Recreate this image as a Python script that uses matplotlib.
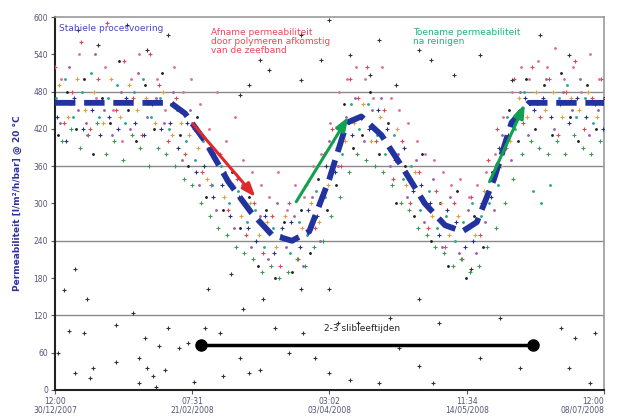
import matplotlib
matplotlib.use("Agg")
import matplotlib.pyplot as plt

# time axis in days after 30/12/2007 12:00
days = [0, 3, 6, 9, 12, 15, 18, 21, 24, 27, 30, 33, 36, 39, 42, 45,
        48, 51, 54, 57, 60, 63, 66, 69, 72, 75, 78, 81, 84, 87, 90, 93,
        96, 99, 102, 105, 108, 111, 114, 117, 120, 123, 126, 129, 132, 135, 138, 141,
        144, 147, 150, 153, 156, 159, 162, 165, 168, 171, 174, 177, 180, 183, 186, 189]

# permeability per measuring line (l/m2/h/bar @ 20 C)
red = [520, 430, 480, 560, 420, 500, 590, 450, 530, 470, 410, 540, 490, 400, 470, 380,
       420, 350, 330, 380, 290, 340, 250, 300, 220, 280, 200, 300, 210, 330, 260, 380,
       420, 360, 500, 470, 520, 400, 450, 340, 400, 300, 350, 260, 320, 230, 300, 210,
       310, 250, 370, 420, 390, 500, 430, 520, 440, 500, 410, 480, 530, 420, 470, 500]
teal = [470, 500, 440, 480, 510, 440, 470, 490, 430, 480, 500, 440, 470, 420, 450, 400,
        370, 400, 330, 360, 300, 320, 270, 290, 230, 260, 250, 220, 270, 250, 320, 310,
        400, 380, 460, 420, 460, 410, 380, 410, 340, 360, 290, 320, 260, 280, 240, 270,
        300, 280, 300, 330, 440, 420, 480, 320, 300, 330, 470, 490, 440, 470, 430, 460]
navy = [440, 400, 470, 420, 450, 410, 440, 420, 470, 430, 410, 460, 420, 430, 390, 430,
        350, 360, 310, 330, 280, 310, 260, 240, 280, 220, 260, 270, 230, 290, 280, 360,
        350, 430, 410, 440, 420, 450, 420, 370, 390, 320, 330, 300, 250, 290, 270, 230,
        240, 300, 310, 390, 410, 440, 470, 450, 470, 440, 460, 430, 470, 440, 460, 420]
black = [410, 480, 420, 500, 380, 470, 430, 530, 450, 400, 490, 420, 510, 460, 410, 360,
         440, 310, 380, 290, 350, 260, 310, 200, 290, 180, 270, 190, 290, 220, 340, 290,
         330, 460, 390, 410, 480, 380, 430, 300, 360, 280, 380, 240, 300, 200, 320, 180,
         280, 230, 350, 360, 450, 400, 500, 420, 490, 410, 510, 440, 400, 490, 420, 470]
orange = [490, 440, 500, 450, 480, 430, 500, 440, 490, 450, 470, 430, 480, 410, 430, 410,
          390, 340, 370, 310, 330, 280, 300, 250, 270, 230, 280, 240, 260, 300, 270, 330,
          390, 400, 430, 460, 400, 440, 390, 420, 330, 350, 300, 280, 300, 250, 280, 260,
          250, 320, 340, 360, 400, 470, 440, 480, 450, 480, 440, 470, 450, 480, 440, 470]
violet = [430, 520, 450, 430, 540, 450, 410, 480, 420, 510, 440, 470, 430, 480, 370, 450,
          330, 390, 290, 350, 260, 330, 230, 280, 210, 300, 230, 280, 200, 310, 240, 400,
          360, 440, 470, 400, 450, 470, 360, 380, 310, 370, 270, 340, 230, 310, 220, 290,
          220, 270, 290, 410, 370, 480, 410, 460, 500, 420, 480, 450, 500, 410, 450, 430]
pink = [500, 460, 540, 410, 470, 520, 450, 400, 500, 540, 460, 500, 450, 520, 480, 500,
        460, 420, 480, 400, 440, 370, 350, 330, 310, 350, 290, 330, 310, 360, 380, 430,
        480, 500, 520, 500, 470, 520, 470, 450, 430, 400, 380, 370, 350, 330, 340, 310,
        330, 350, 380, 440, 480, 520, 500, 530, 520, 550, 500, 520, 480, 540, 500, 520]
green = [400, 420, 390, 410, 430, 380, 400, 370, 410, 390, 360, 390, 380, 360, 340, 330,
         300, 280, 260, 250, 230, 220, 210, 190, 200, 180, 190, 210, 200, 230, 240, 280,
         310, 350, 380, 370, 360, 350, 330, 300, 290, 260, 250, 230, 220, 200, 210, 190,
         200, 230, 260, 300, 340, 380, 400, 390, 380, 400, 380, 410, 390, 380, 400, 380]

# loose readings far from the main cloud
stray_days = [1, 5, 7, 10, 12, 13, 21, 21, 27, 29, 29, 31, 32, 34, 35, 36, 38, 39, 43, 46,
              48, 52, 57, 58, 64, 65, 67, 71, 76, 81, 86, 90, 95, 98, 102, 105, 112, 116,
              119, 126, 131, 133, 147, 154, 161, 175, 178, 180, 185, 187,
              3, 7, 11, 53, 61, 72, 85, 95, 144, 126,
              8, 15, 25, 32, 39, 95, 112, 85, 126, 168, 178, 71,
              64, 74, 85, 92, 102, 109, 118, 130, 138, 147, 158, 67]
stray_vals = [59, 94, 27, 91, 19, 35, 104, 45, 123, 51, 11, 83, 35, 22, 5, 70, 32, 99, 67, 75,
              13, 99, 91, 22, 51, 131, 27, 32, 99, 59, 91, 51, 27, 107, 16, 107, 11, 115,
              67, 38, 11, 107, 51, 115, 35, 99, 35, 83, 11, 91,
              160, 195, 147, 163, 187, 147, 163, 163, 195, 147,
              579, 555, 587, 547, 571, 595, 563, 571, 547, 571, 539, 531,
              475, 515, 499, 531, 539, 507, 491, 531, 507, 539, 499, 491]

# dashed trend line
trend_days = [0, 40, 45, 52, 60, 68, 75, 82, 88, 95, 101, 106, 113, 120, 128, 135, 141, 146, 152, 158, 164, 190]
trend_vals = [462, 462, 445, 400, 335, 285, 250, 240, 255, 340, 430, 440, 410, 360, 300, 265, 255, 270, 340, 430, 462, 462]

red_arrow = [(47, 432), (70, 307)]
green_arrows = [[(83, 299), (102, 443)], [(150, 331), (163, 464)]]
sludge_span = [50.5, 165.6]
sludge_level = 72

tick_pos = [0, 47.5, 95, 142.5, 190]
tick_labels = ["12:00\n30/12/2007", "07:31\n21/02/2008", "03:02\n03/04/2008",
               "11:34\n14/05/2008", "12:00\n08/07/2008"]

fig = plt.figure(figsize=(6.22, 4.17), dpi=100)
ax = fig.add_axes([0.0884, 0.065, 0.8826, 0.894])

for yv in [120, 240, 360, 480]:
    ax.axhline(yv, color="#8a8a8a", lw=1.0, zorder=1)
ax.axhline(0, color="#30b090", lw=2.0, zorder=2)

series = [(red, "#e04850", "+"), (teal, "#2aa888", "."), (navy, "#2a3280", "+"),
          (black, "#222222", "."), (orange, "#e0a040", "+"), (violet, "#a060b0", "."),
          (pink, "#e070a0", "."), (green, "#3a9a50", "+")]
shift = 0
for vals, col, mk in series:
    xs = [d + shift for d in days]
    ax.scatter(xs, vals, s=9 if mk == "+" else 6, marker=mk, color=col, lw=0.8, zorder=3)
    shift += 0.37
ax.scatter(stray_days, stray_vals, s=8, marker="+", color="#333333", lw=0.8, zorder=3)

ax.plot(trend_days, trend_vals, color="#2233a0", lw=4.2, dashes=(3.5, 1.5), zorder=5)

(x0, y0), (x1, y1) = red_arrow
ax.annotate("", xy=(x1, y1), xytext=(x0, y0),
            arrowprops=dict(arrowstyle="-|>,head_width=0.3,head_length=0.8", color="#e02828", lw=2.2),
            zorder=6)
for (x0, y0), (x1, y1) in green_arrows:
    ax.annotate("", xy=(x1, y1), xytext=(x0, y0),
                arrowprops=dict(arrowstyle="-|>,head_width=0.3,head_length=0.8", color="#10a050", lw=2.2),
                zorder=6)

ax.plot(sludge_span, [sludge_level, sludge_level], color="black", lw=2.5,
        marker="o", markersize=8, zorder=6)
ax.text(93, 94, "2-3 slibleeftijden", fontsize=6.5, color="#222222", zorder=7)

ax.text(1.5, 581, "Stabiele procesvoering", fontsize=6.5, color="#4848c0", va="center", zorder=7)
ax.text(54, 583, "Afname permeabiliteit\ndoor polymeren afkomstig\nvan de zeefband",
        fontsize=6.5, color="#e84858", va="top", linespacing=1.0, zorder=7)
ax.text(124, 583, "Toename permeabiliteit\nna reinigen",
        fontsize=6.5, color="#20b080", va="top", linespacing=1.0, zorder=7)

ax.set_xlim(0, 190)
ax.set_ylim(0, 600)
ax.set_yticks(range(0, 601, 60))
ax.set_xticks(tick_pos)
ax.set_xticklabels(tick_labels, linespacing=1.0)
ax.get_xticklabels()[-1].set_horizontalalignment("right")
ax.get_xticklabels()[-1].set_x(190)
ax.tick_params(axis="both", labelsize=5.5, colors="#555577", length=3, width=0.8, pad=2)
ax.set_ylabel("Permeabiliteit [l/m²/h/bar] @ 20 °C", fontsize=6.5, color="#3030a0",
              fontweight="bold", labelpad=8)

for side in ["left", "bottom"]:
    ax.spines[side].set_color("#222222")
    ax.spines[side].set_linewidth(1.5)
for side in ["top", "right"]:
    ax.spines[side].set_color("#9a9a9a")
    ax.spines[side].set_linewidth(1.2)

fig.savefig("out.png", dpi=100)
